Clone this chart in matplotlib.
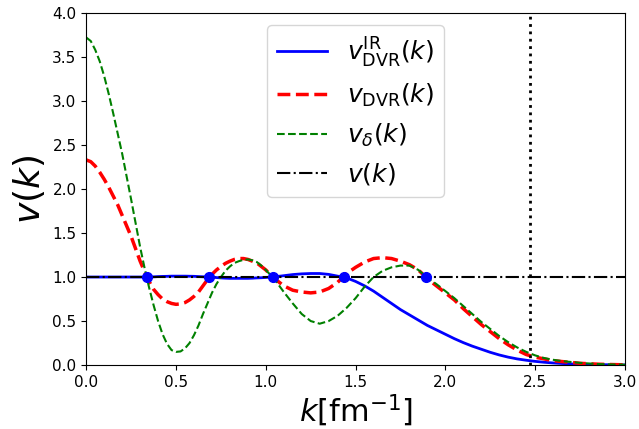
import matplotlib
matplotlib.use("Agg")
import matplotlib.pyplot as plt

# momentum grid (fm^-1): finer below 1.0 where curves bend strongly
k = [0.000, 0.025, 0.050, 0.075, 0.100, 0.125, 0.150, 0.175, 0.200, 0.225,
     0.250, 0.275, 0.300, 0.325, 0.350, 0.375, 0.400, 0.425, 0.450, 0.475,
     0.500, 0.525, 0.550, 0.575, 0.600, 0.625, 0.650, 0.675, 0.700, 0.725,
     0.750, 0.775, 0.800, 0.825, 0.850, 0.875, 0.900, 0.925, 0.950, 0.975,
     1.00, 1.05, 1.10, 1.15, 1.20, 1.25, 1.30, 1.35, 1.40, 1.45,
     1.50, 1.55, 1.60, 1.65, 1.70, 1.75, 1.80, 1.85, 1.90, 1.95,
     2.00, 2.05, 2.10, 2.15, 2.20, 2.25, 2.30, 2.35, 2.40, 2.45,
     2.50, 2.55, 2.60, 2.65, 2.70, 2.75, 2.80, 2.85, 2.90, 2.95, 3.00]

v_ir = [1.000, 1.000, 1.000, 1.000, 1.000, 1.000, 1.000, 1.000, 1.000, 1.000,
        1.000, 1.000, 1.000, 1.000, 1.000, 1.002, 1.005, 1.007, 1.008, 1.010,
        1.010, 1.010, 1.010, 1.009, 1.008, 1.005, 1.003, 1.000, 0.998, 0.994,
        0.990, 0.987, 0.985, 0.985, 0.985, 0.985, 0.985, 0.987, 0.990, 0.992,
        0.995, 1.003, 1.015, 1.028, 1.036, 1.040, 1.040, 1.030, 1.010, 0.990,
        0.95, 0.90, 0.84, 0.77, 0.70, 0.63, 0.57, 0.51, 0.45, 0.40,
        0.35, 0.30, 0.255, 0.215, 0.18, 0.145, 0.115, 0.09, 0.07, 0.055,
        0.042, 0.032, 0.024, 0.018, 0.013, 0.010, 0.007, 0.005, 0.004, 0.003, 0.002]

v_dvr = [2.33, 2.31, 2.26, 2.19, 2.11, 2.02, 1.92, 1.82, 1.70, 1.58,
         1.46, 1.32, 1.18, 1.06, 0.95, 0.86, 0.80, 0.75, 0.72, 0.70,
         0.69, 0.695, 0.71, 0.74, 0.78, 0.83, 0.90, 0.97, 1.03, 1.08,
         1.12, 1.155, 1.18, 1.20, 1.21, 1.21, 1.20, 1.18, 1.16, 1.12,
         1.08, 0.98, 0.90, 0.85, 0.83, 0.82, 0.83, 0.87, 0.94, 1.04,
         1.11, 1.17, 1.21, 1.22, 1.21, 1.18, 1.14, 1.08, 0.98, 0.90,
         0.82, 0.74, 0.64, 0.55, 0.46, 0.38, 0.30, 0.23, 0.17, 0.12,
         0.09, 0.07, 0.05, 0.04, 0.03, 0.02, 0.015, 0.010, 0.007, 0.005, 0.003]

v_delta = [3.72, 3.68, 3.58, 3.45, 3.28, 3.08, 2.86, 2.63, 2.40, 2.14,
           1.88, 1.61, 1.34, 1.10, 0.88, 0.68, 0.50, 0.35, 0.24, 0.17,
           0.15, 0.155, 0.19, 0.25, 0.34, 0.45, 0.58, 0.70, 0.82, 0.92,
           1.00, 1.07, 1.12, 1.16, 1.18, 1.195, 1.20, 1.19, 1.17, 1.13,
           1.08, 0.97, 0.83, 0.70, 0.58, 0.50, 0.47, 0.50, 0.56, 0.65,
           0.76, 0.89, 1.00, 1.07, 1.11, 1.13, 1.13, 1.08, 0.99, 0.92,
           0.84, 0.76, 0.67, 0.58, 0.49, 0.41, 0.33, 0.26, 0.20, 0.15,
           0.11, 0.08, 0.06, 0.045, 0.035, 0.025, 0.018, 0.012, 0.008, 0.006, 0.004]

v_exact = [1.0] * len(k)

# DVR nodes
k_nodes = [0.34, 0.685, 1.04, 1.435, 1.89]
v_nodes = [1.0, 1.0, 1.0, 1.0, 1.0]

k_cut = 2.47

fig = plt.figure(figsize=(6.39, 4.29), dpi=100)
ax = fig.add_axes([0.135, 0.149, 0.843, 0.821])

ax.plot(k, v_ir, color='blue', lw=2, label=r'$v_{\rm DVR}^{\rm IR}(k)$')
ax.plot(k, v_dvr, color='red', ls='--', lw=2.5, label=r'$v_{\rm DVR}(k)$')
ax.plot(k, v_delta, color='green', ls='--', lw=1.5, label=r'$v_{\delta}(k)$')
ax.plot(k, v_exact, color='black', ls='-.', lw=1.5, label=r'$v(k)$')
ax.plot(k_nodes, v_nodes, 'o', color='blue', markersize=7)
ax.axvline(k_cut, color='black', ls=':', lw=2)

ax.set_xlim(0, 3)
ax.set_ylim(0, 4)
ax.tick_params(labelsize=11)
ax.set_xlabel(r'$k[\mathrm{fm}^{-1}]$', fontsize=22, labelpad=2)
ax.set_ylabel(r'$v(k)$', fontsize=26)
ax.legend(loc='upper center', fontsize=18)

fig.savefig('out.png', dpi=100)
